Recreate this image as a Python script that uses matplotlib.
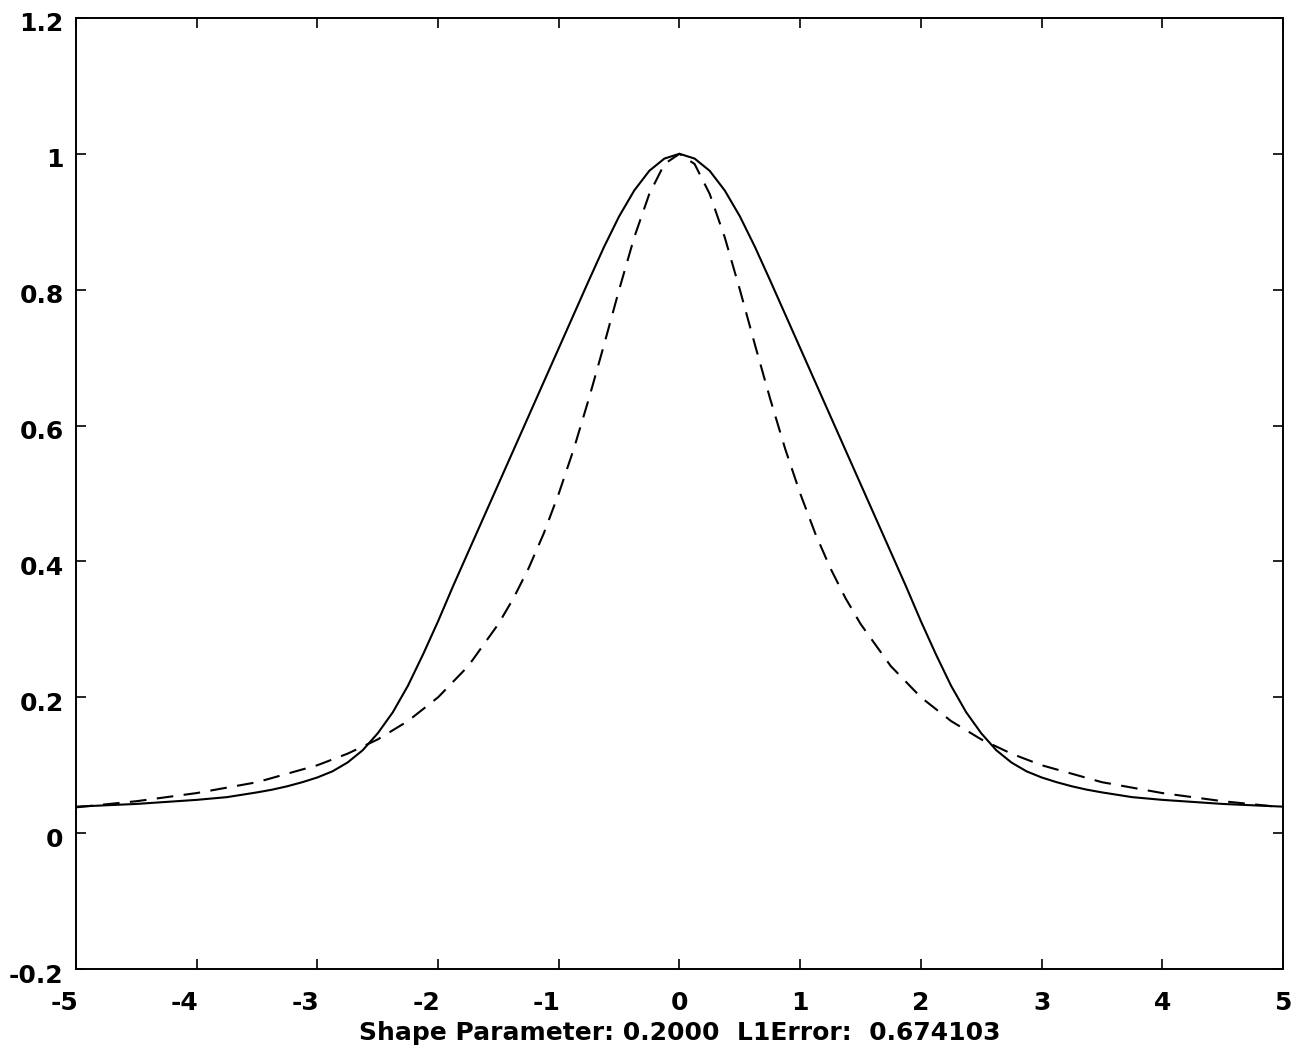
import matplotlib
matplotlib.use("Agg")
import matplotlib.pyplot as plt
import matplotlib.transforms as mtransforms

# ---- data ----
x_solid = [-5.0, -4.75, -4.5, -4.25, -4.0, -3.75, -3.5, -3.375, -3.25, -3.125, -3.0,
           -2.875, -2.75, -2.625, -2.5, -2.375, -2.25, -2.125, -2.0, -1.875, -1.75,
           -1.625, -1.5, -1.375, -1.25, -1.125, -1.0, -0.875, -0.75, -0.625, -0.5,
           -0.375, -0.25, -0.125, 0.0, 0.125, 0.25, 0.375, 0.5, 0.625, 0.75, 0.875,
           1.0, 1.125, 1.25, 1.375, 1.5, 1.625, 1.75, 1.875, 2.0, 2.125, 2.25, 2.375,
           2.5, 2.625, 2.75, 2.875, 3.0, 3.125, 3.25, 3.375, 3.5, 3.75, 4.0, 4.25,
           4.5, 4.75, 5.0]
y_solid = [0.039, 0.041, 0.043, 0.046, 0.049, 0.053, 0.060, 0.064, 0.069, 0.075, 0.082,
           0.091, 0.104, 0.122, 0.147, 0.178, 0.217, 0.263, 0.312, 0.364, 0.414,
           0.464, 0.514, 0.564, 0.614, 0.664, 0.714, 0.764, 0.814, 0.863, 0.908,
           0.946, 0.975, 0.993, 1.000, 0.993, 0.975, 0.946, 0.908, 0.863, 0.814, 0.764,
           0.714, 0.664, 0.614, 0.564, 0.514, 0.464, 0.414, 0.364, 0.312, 0.263, 0.217, 0.178,
           0.147, 0.122, 0.104, 0.091, 0.082, 0.075, 0.069, 0.064, 0.060, 0.053, 0.049, 0.046,
           0.043, 0.041, 0.039]

x_dash = [-5.0, -4.5, -4.0, -3.5, -3.0, -2.75, -2.5, -2.25, -2.0, -1.75, -1.5, -1.375,
          -1.25, -1.125, -1.0, -0.875, -0.75, -0.625, -0.5, -0.375, -0.25, -0.125, 0.0,
          0.125, 0.25, 0.375, 0.5, 0.625, 0.75, 0.875, 1.0, 1.125, 1.25, 1.375, 1.5,
          1.75, 2.0, 2.25, 2.5, 2.75, 3.0, 3.5, 4.0, 4.5, 5.0]
y_dash = [0.038, 0.047, 0.059, 0.075, 0.100, 0.117, 0.138, 0.165, 0.200, 0.246, 0.308, 0.346,
          0.390, 0.441, 0.500, 0.566, 0.640, 0.719, 0.800, 0.877, 0.941, 0.985, 1.000,
          0.985, 0.941, 0.877, 0.800, 0.719, 0.640, 0.566, 0.500, 0.441, 0.390, 0.346, 0.308,
          0.246, 0.200, 0.165, 0.138, 0.117, 0.100, 0.075, 0.059, 0.047, 0.038]

x_ticks = [-5, -4, -3, -2, -1, 0, 1, 2, 3, 4, 5]
x_ticklabels = ["-5", "-4", "-3", "-2", "-1", "0", "1", "2", "3", "4", "5"]
y_ticks = [-0.2, 0.0, 0.2, 0.4, 0.6, 0.8, 1.0, 1.2]
y_ticklabels = ["-0.2", "0", "0.2", "0.4", "0.6", "0.8", "1", "1.2"]
xlabel_text = "Shape Parameter: 0.2000  L1Error:  0.674103"

# ---- figure ----
plt.rcParams['font.family'] = ['DejaVu Sans']
plt.rcParams['font.weight'] = 'bold'
FS = 18

fig = plt.figure(figsize=(12.97, 10.55), dpi=100)
ax = fig.add_axes([0.0586, 0.0815, 0.9306, 0.9015])

ax.plot(x_solid, y_solid, color='black', lw=1.5, solid_joinstyle='round')
ax.plot(x_dash, y_dash, color='black', lw=1.5, dashes=(8, 5))

ax.set_xlim(-5, 5)
ax.set_ylim(-0.2, 1.2)
ax.set_xticks(x_ticks)
ax.set_xticklabels(x_ticklabels, fontsize=FS, fontweight='bold')
ax.set_yticks(y_ticks)
ax.set_yticklabels(y_ticklabels, fontsize=FS, fontweight='bold')

ax.tick_params(axis='both', direction='in', length=7, width=1.2,
               top=True, right=True, colors='black')
ax.tick_params(axis='x', pad=16)
ax.tick_params(axis='y', pad=9)

for s in ax.spines.values():
    s.set_linewidth(1.4)
    s.set_color('black')

# shift negative x labels slightly left, y labels slightly down (as in reference)
off_left = mtransforms.ScaledTranslation(-12 / 100, 0, fig.dpi_scale_trans)
off_down = mtransforms.ScaledTranslation(0, -4 / 100, fig.dpi_scale_trans)
for lab in ax.get_xticklabels():
    if lab.get_text().startswith('-'):
        lab.set_transform(lab.get_transform() + off_left)
for lab in ax.get_yticklabels():
    lab.set_transform(lab.get_transform() + off_down)

ax.set_xlabel(xlabel_text, fontsize=FS, fontweight='bold', labelpad=4)

fig.savefig("out.png", dpi=100, facecolor='white')
